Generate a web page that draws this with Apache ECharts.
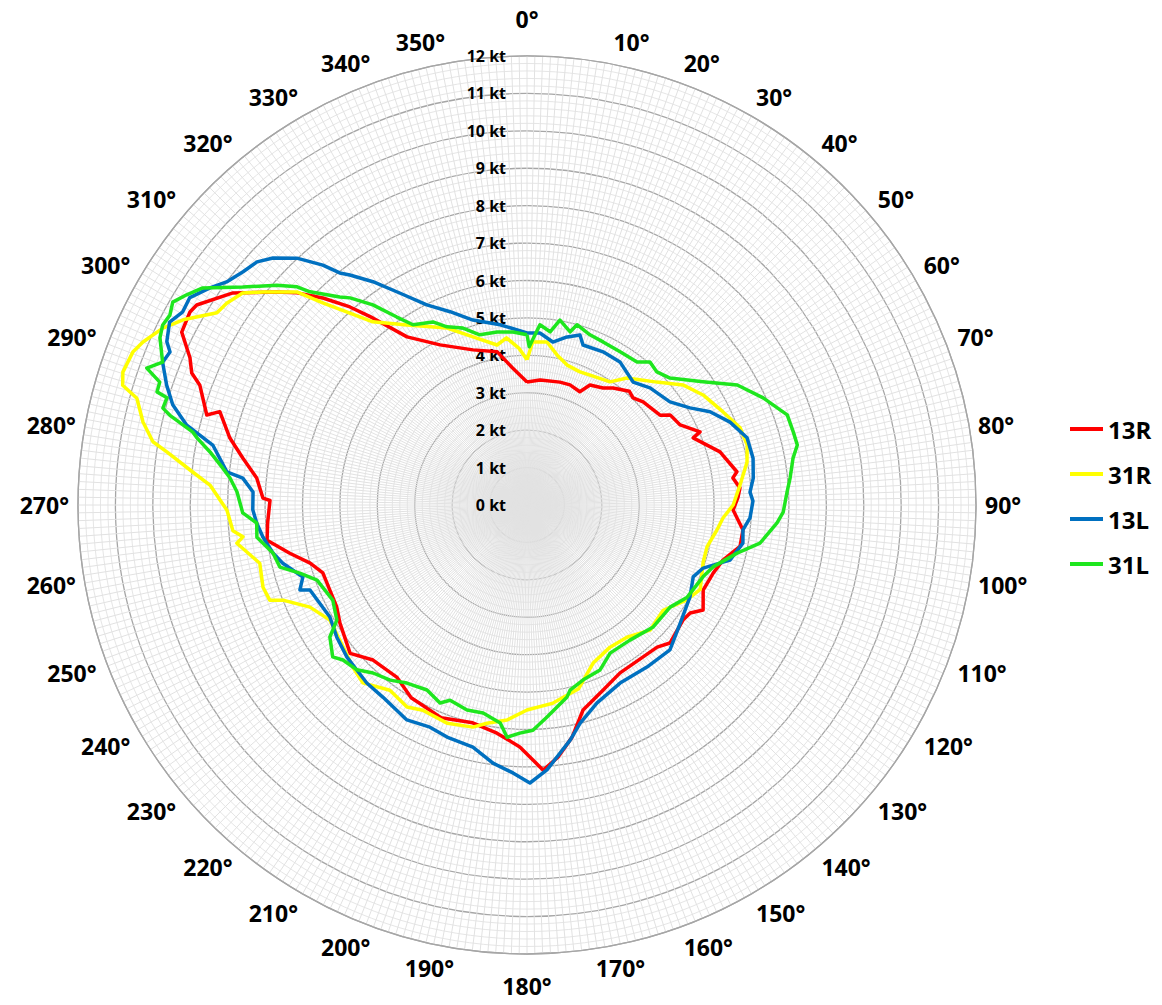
<!DOCTYPE html>
<html>
<head>
<meta charset="utf-8">
<script src="https://cdn.jsdelivr.net/npm/echarts@6/dist/echarts.min.js"></script>
<style>
html,body{margin:0;padding:0;background:#fff;}
#chart{width:1162px;height:1005px;}
</style>
</head>
<body>
<div id="chart"></div>
<script>
// Series names (legend)
const seriesNames = ['13R', '31R', '13L', '31L'];
const seriesColors = ['#ff0000', '#ffff00', '#0070c0', '#1ee61e'];

// Wind speed (kt) by direction (deg): [direction, speed]
const data13R = [
  [0,3.29],[6,3.36],[15,3.4],[19.7,3.41],[25,3.34],[27.7,3.62],[33,3.73],[36.3,3.88],[42,4.09],[44.7,4.03],
  [48.4,4.15],[56,4.29],[57.8,4.52],[62.4,4.62],[67.1,5.02],[68,4.79],[74.6,5.35],[81,5.68],[82.5,5.55],[85.4,5.71],
  [88,5.64],[91.4,5.51],[96.6,5.81],[101,5.8],[105.7,5.44],[110,5.3],[115.8,5.23],[120.8,5.48],[123.5,5.23],[126.4,5.18],
  [134,5.31],[137.5,5.15],[142.6,5.11],[151,5.13],[157.7,5.35],[164.7,5.68],[169,6.32],[173,6.79],[176.5,7.1],[181.7,6.47],
  [187.5,6.15],[194,6.0],[202,6.13],[211,6.01],[217,5.77],[224.8,5.84],[230,6.17],[237.8,5.91],[241.8,5.77],[246.7,5.74],
  [251.6,5.75],[255,6.0],[258.5,6.47],[262.3,7.01],[266,6.95],[271,6.87],[271.5,7.06],[275.7,7.26],[279.4,7.7],[282.7,8.14],
  [286.9,8.58],[285.7,8.89],[290.1,9.31],[291.5,9.63],[293.6,9.83],[296.6,10.32],[299.8,10.38],[301.2,10.32],[305.8,9.69],[310.4,8.78],
  [312.7,8.36],[315.4,7.77],[318.2,7.1],[320.5,6.48],[324.5,5.52],[331.5,4.87],[340.8,4.39],[349,4.17],[354,3.68],[360,3.29]
];
const data31R = [
  [0,3.88],[2,4.36],[7,4.39],[11.3,4.09],[16,3.89],[21.7,3.83],[25.9,3.86],[34,3.97],[38.2,4.32],[46.6,4.78],
  [52.4,5.26],[58,5.55],[64.6,5.8],[70.1,6.06],[74.7,6.1],[79,5.99],[84.6,5.72],[90,5.51],[93.8,5.25],[97.5,5.12],
  [103,4.94],[108,4.95],[116,5.15],[120.7,4.97],[127.7,4.6],[135.5,4.69],[142.9,4.43],[149.7,4.4],[157.3,4.58],[164.3,5.1],
  [172.5,5.34],[180,5.48],[185.3,5.77],[190.4,5.93],[193.7,6.11],[200,6.21],[206.9,6.15],[210.7,6.28],[216.5,6.16],[222.7,6.47],
  [227,6.36],[234.2,6.17],[239.7,6.1],[244.8,6.41],[248.7,7.0],[249.7,7.33],[252.7,7.39],[257.7,7.31],[262.5,7.82],[263.6,7.64],
  [265,7.89],[269,8.02],[273.6,8.49],[275.6,8.97],[278.4,9.73],[279.6,10.14],[282.2,10.5],[285.3,10.81],[286.5,11.27],[288.2,11.37],
  [291.2,11.3],[293,11.15],[295.9,10.82],[298.3,10.44],[301.8,9.75],[303.9,9.67],[306.7,9.48],[308.9,9.07],[312.8,8.38],[314.7,7.68],
  [317.3,6.98],[319.9,6.4],[326.3,5.78],[335.7,5.19],[342.2,4.72],[349.4,4.35],[353,4.5],[357,4.2],[360,3.88]
];
const data13L = [
  [0,4.6],[4.3,4.61],[9,4.41],[13,4.6],[17.3,4.76],[19.3,4.53],[26.4,4.57],[33,4.56],[40.8,4.34],[46.4,4.54],
  [54.2,4.71],[59.2,5.07],[63,5.49],[67.8,5.86],[73,6.15],[78.3,6.17],[83.2,6.09],[86.7,5.97],[89,6.04],[93.3,5.97],
  [96.6,5.81],[100,5.86],[105.2,5.62],[109.7,5.0],[113.4,4.84],[119.4,5.0],[127.6,5.17],[135.4,5.44],[143.5,5.39],[152.4,5.37],
  [160.5,5.61],[166.3,6.0],[169.6,6.39],[175.7,7.1],[179.4,7.43],[183,7.17],[187.5,6.96],[192.6,6.63],[199,6.56],[203.6,6.48],
  [209.2,6.58],[216.9,6.42],[222,6.4],[229.8,6.3],[235.2,6.19],[240.4,6.06],[248.6,6.23],[249.5,6.48],[252.2,6.29],[256.6,6.71],
  [259.3,6.91],[263.1,7.11],[266.2,7.24],[269,7.33],[272.7,7.33],[275.4,7.63],[276.3,8.07],[280.8,8.55],[283.2,9.34],[285.8,9.84],
  [288.4,10.15],[291.4,10.46],[293.2,10.38],[294.4,10.57],[297.1,10.73],[299.3,10.55],[301.6,10.58],[304.4,10.27],[306.6,10.0],[309.4,9.82],
  [312,9.71],[314.2,9.47],[317,9.02],[319.6,8.42],[321.1,7.97],[322.4,7.76],[325.4,7.25],[329,6.61],[333.4,5.98],[338.3,5.56],
  [343.7,5.15],[351.5,4.87],[360,4.6]
];
const data31L = [
  [0,4.55],[0.8,4.23],[4.1,4.83],[7.6,4.67],[10.1,5.02],[14,4.77],[15.5,5.0],[20.3,4.85],[25,4.81],[31.3,4.79],
  [37.6,4.82],[40.7,5.04],[44.3,4.97],[48.4,5.11],[55,5.74],[60.3,6.47],[65.6,6.93],[70.9,7.36],[74.7,7.38],[77.5,7.4],
  [80,7.22],[84.1,7.07],[87.1,6.96],[91.6,6.85],[94.1,6.7],[99.3,6.31],[102.9,5.76],[108.4,5.24],[112.2,5.08],[119.9,4.94],
  [125.5,4.7],[134,4.69],[142.7,4.54],[150.7,4.54],[156.1,4.82],[162.3,4.91],[166.9,5.08],[168.2,5.24],[174.6,5.69],[178.5,6.02],
  [181.8,6.1],[184.9,6.23],[187,5.87],[191.9,5.68],[196.3,5.71],[201.5,5.61],[203.7,5.78],[208.4,5.62],[214,5.74],[218,5.94],
  [222.5,6.09],[225.9,6.33],[229.9,6.43],[232,6.59],[236.2,6.34],[238.8,5.94],[243.9,5.78],[250.3,5.96],[253.3,6.34],[255.9,6.81],
  [259.3,6.91],[263.2,7.27],[266.2,7.24],[268.4,7.6],[272.6,7.76],[275.2,7.97],[276.9,8.19],[279.5,8.59],[281.5,9.0],[282.3,9.14],
  [284.1,9.84],[284.9,10.07],[286.6,10.04],[287,10.34],[288.5,10.35],[289.8,10.8],[291.4,10.46],[294.5,10.78],[296.3,10.86],[298,10.81],
  [299.8,10.91],[301.7,10.69],[303.8,10.43],[307.5,9.57],[311.3,8.9],[313.5,8.47],[314.5,8.13],[318,7.48],[319.5,7.28],[322.4,6.75],
  [325.3,6.11],[327.7,5.7],[332.8,5.5],[335.8,5.22],[340.1,5.03],[344.5,4.72],[350.2,4.69],[355.4,4.64],[360,4.55]
];
const allData = [data13R, data31R, data13L, data31L];

const chart = echarts.init(document.getElementById('chart'), null, {renderer: 'svg'});
const labelFont = '"Open Sans", "Liberation Sans", sans-serif';
const angFont = {fontFamily: labelFont, fontWeight: 'bold', fontSize: 23, color: '#000'};

chart.setOption({
  animation: false,
  backgroundColor: '#ffffff',
  legend: {
    data: seriesNames,
    orient: 'vertical',
    left: 1065,
    top: 411,
    icon: 'rect',
    itemWidth: 33,
    itemHeight: 4,
    itemGap: 19,
    textStyle: {fontFamily: labelFont, fontWeight: 'bold', fontSize: 24, lineHeight: 26, color: '#000'}
  },
  polar: {center: [527, 505], radius: 449},
  angleAxis: {
    type: 'value', min: 0, max: 360, interval: 10, startAngle: 90, clockwise: true,
    axisLine: {show: true, lineStyle: {color: '#a6a6a6', width: 1.3}},
    axisTick: {show: false},
    axisLabel: {
      margin: 9,
      fontFamily: labelFont, fontWeight: 'bold', fontSize: 23, color: '#000',
      formatter: function (v) {
        if (v >= 360) return '';
        const t = v + '°';
        if (v === 0) return '{t0|' + t + '}';
        if (v === 180) return '{b180|' + t + '}';
        if (v === 10) return '{r10|' + t + '}';
        if (v === 350) return '{l10|' + t + '}';
        if (v === 170) return '{r170|' + t + '}';
        if (v === 190) return '{l190|' + t + '}';
        return '{n|' + t + '}';
      },
      rich: {
        n: Object.assign({}, angFont),
        t0: Object.assign({lineHeight: 56}, angFont),
        b180: Object.assign({lineHeight: 46}, angFont),
        r10: Object.assign({padding: [0, 0, 0, 50]}, angFont),
        l10: Object.assign({padding: [0, 54, 0, 0]}, angFont),
        r170: Object.assign({padding: [0, 0, 0, 28]}, angFont),
        l190: Object.assign({padding: [0, 36, 0, 0]}, angFont)
      }
    },
    splitLine: {show: true, lineStyle: {color: '#e2e2e2', width: 1}},
    minorTick: {show: false, splitNumber: 10},
    minorSplitLine: {show: true, lineStyle: {color: '#e2e2e2', width: 1}}
  },
  radiusAxis: {
    type: 'value', min: 0, max: 12, interval: 1,
    axisLine: {show: false},
    axisTick: {show: false},
    axisLabel: {
      margin: 21, fontFamily: labelFont, fontWeight: 'bold', fontSize: 16, color: '#000',
      formatter: function (v) { return v + ' kt'; }
    },
    splitLine: {show: true, lineStyle: {color: '#a6a6a6', width: 1.3}},
    minorTick: {show: false, splitNumber: 5},
    minorSplitLine: {show: true, lineStyle: {color: '#e6e6e6', width: 1}}
  },
  series: seriesNames.map(function (name, i) {
    return {
      name: name,
      type: 'line',
      coordinateSystem: 'polar',
      showSymbol: false,
      symbol: 'none',
      smooth: false,
      color: seriesColors[i],
      emphasis: {disabled: true},
      lineStyle: {color: seriesColors[i], width: 3.5, join: 'round', opacity: 1},
      data: allData[i].map(function (p) { return [p[1], p[0]]; })
    };
  })
});
</script>
</body>
</html>
